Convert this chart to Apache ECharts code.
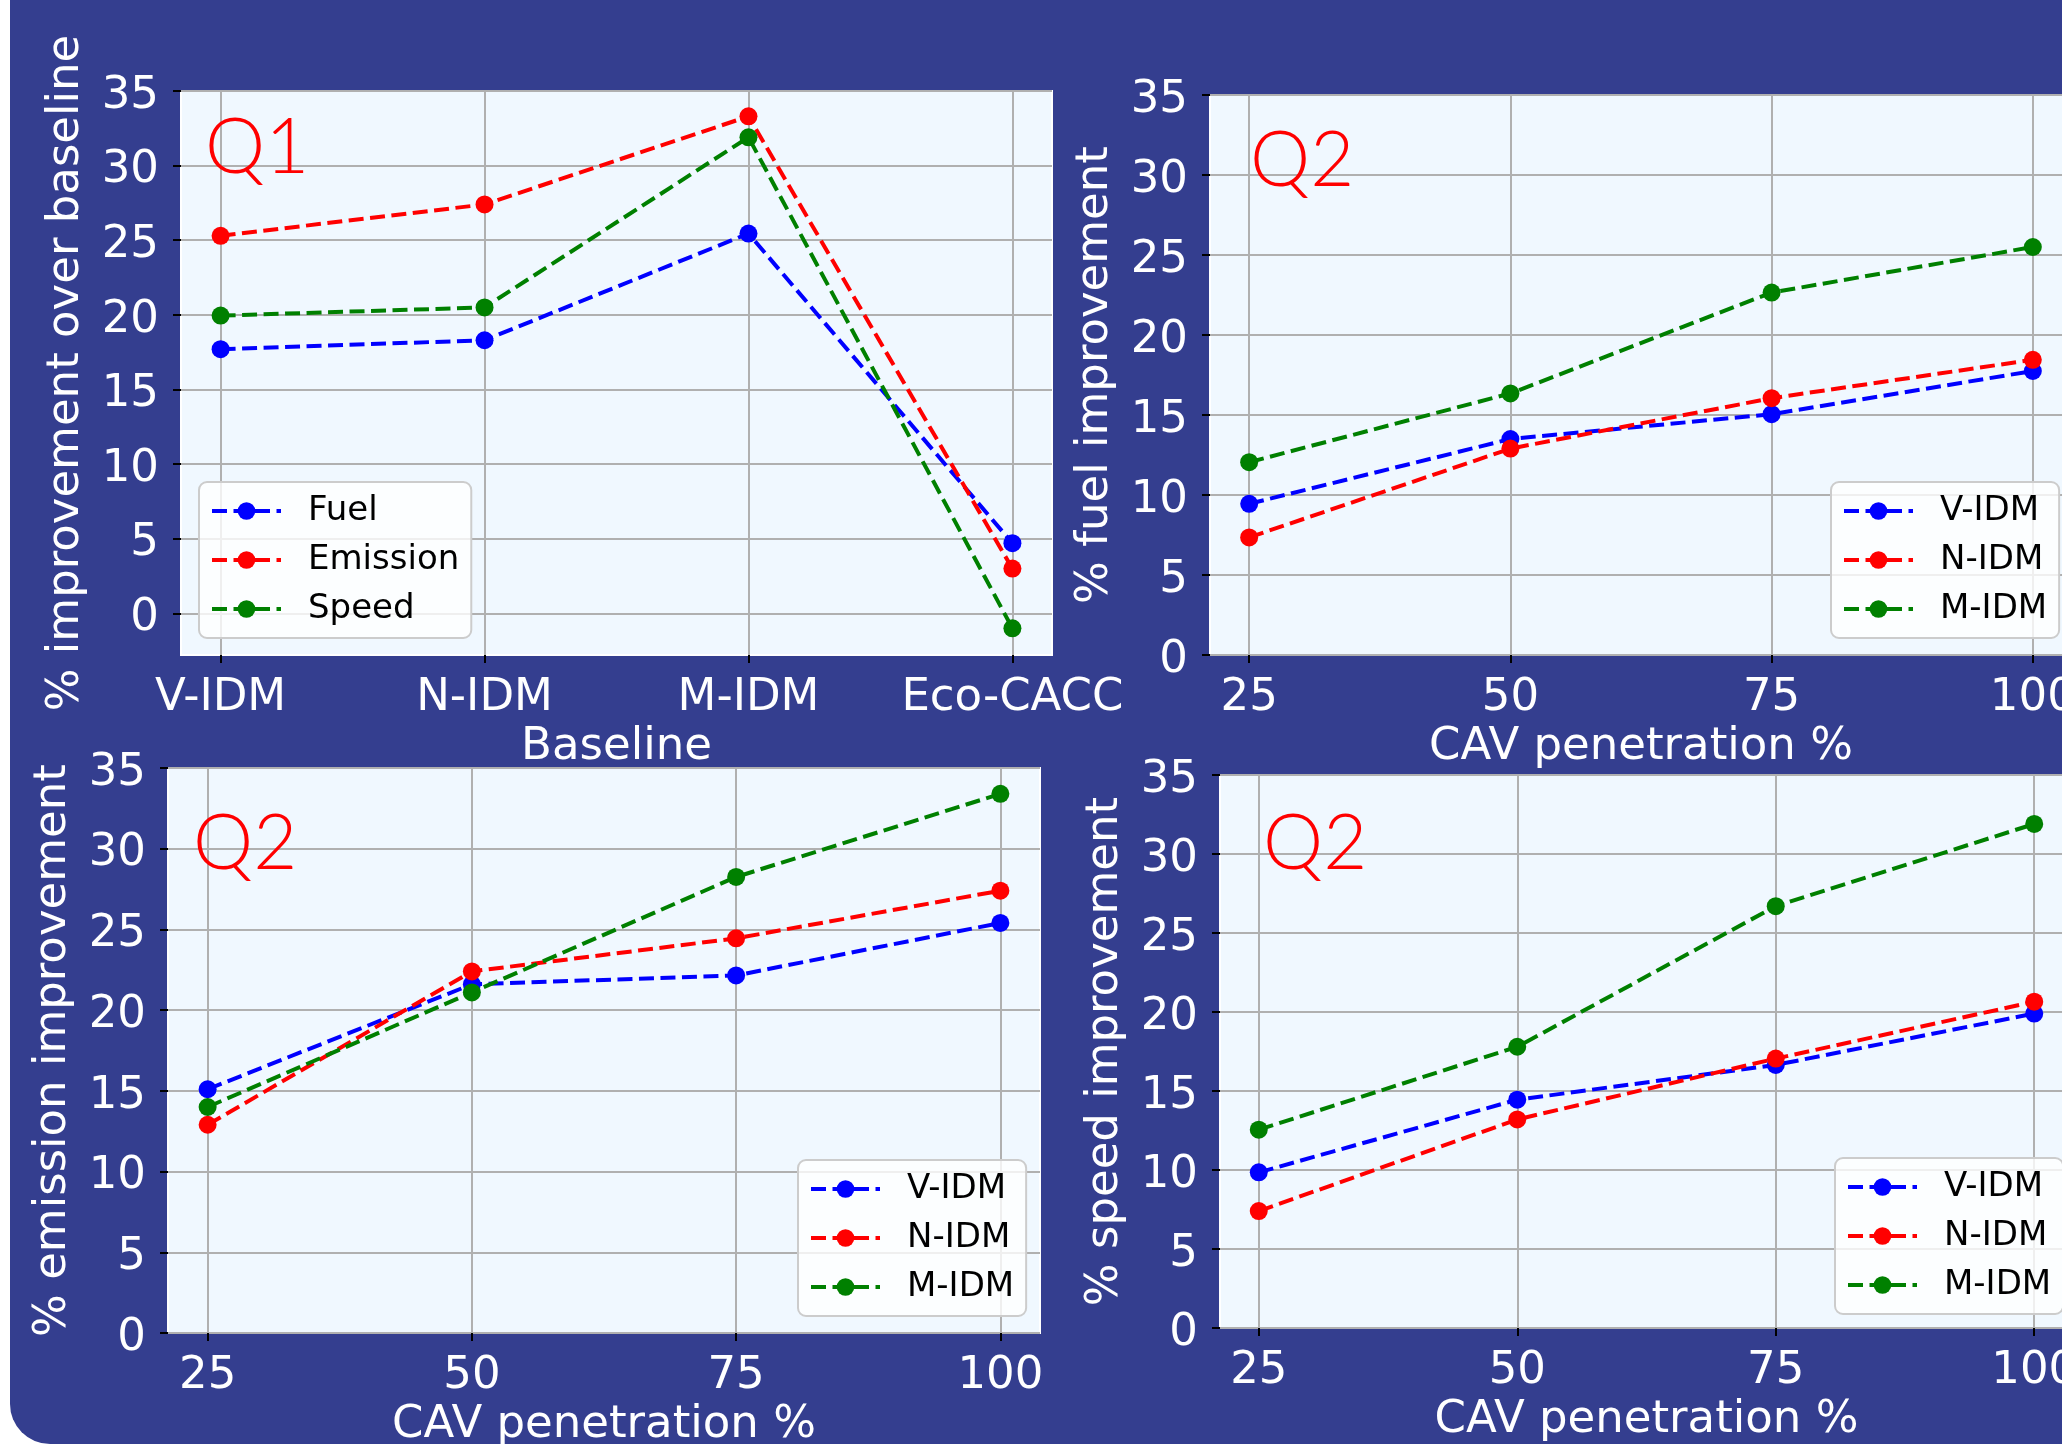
<!DOCTYPE html>
<html>
<head>
<meta charset="utf-8">
<script src="https://cdn.jsdelivr.net/npm/echarts@6/dist/echarts.min.js"></script>
<style>
  html, body { margin: 0; padding: 0; background: #ffffff; }
  #chart { width: 2062px; height: 1444px; }
</style>
</head>
<body>
<div id="chart"></div>
<script>
// Q1: improvement over each baseline
const BASELINES = ['V-IDM', 'N-IDM', 'M-IDM', 'Eco-CACC'];
const Q1_NAMES = ['Fuel', 'Emission', 'Speed'];
const Q1_FUEL = [17.7, 18.3, 25.45, 4.7];
const Q1_EMISSION = [25.3, 27.4, 33.3, 3.0];
const Q1_SPEED = [19.95, 20.5, 31.9, -1.0];

// Q2: improvement vs CAV penetration
const PENETRATION = [25, 50, 75, 100];
const MODELS = ['V-IDM', 'N-IDM', 'M-IDM'];
const FUEL_V = [9.45, 13.5, 15.05, 17.75];
const FUEL_N = [7.35, 12.9, 16.05, 18.45];
const FUEL_M = [12.05, 16.35, 22.65, 25.5];
const EMIS_V = [15.1, 21.6, 22.15, 25.4];
const EMIS_N = [12.9, 22.4, 24.45, 27.4];
const EMIS_M = [14.0, 21.1, 28.25, 33.4];
const SPEED_V = [9.85, 14.45, 16.65, 19.9];
const SPEED_N = [7.4, 13.2, 17.05, 20.65];
const SPEED_M = [12.55, 17.8, 26.7, 31.9];

const Y_TICKS = [0, 5, 10, 15, 20, 25, 30, 35];
const COLORS = ['#0000ff', '#ff0000', '#008000'];

const FONT = 'DejaVu Sans';
const NAVY = '#343e8f';

const chart = echarts.init(document.getElementById('chart'));

const grids = [
    { left: 181, top: 91, width: 871, height: 564 },
    { left: 1210, top: 95, width: 862, height: 560 },
    { left: 168, top: 768, width: 872, height: 565 },
    { left: 1220, top: 775, width: 853, height: 553 }
].map(g => ({
    ...g,
    show: true,
    outerBoundsMode: 'none',
    containLabel: false,
    backgroundColor: '#f0f8ff',
    borderColor: '#ffffff',
    borderWidth: 2
}));

const tickLabel = { color: '#ffffff', fontSize: 45, fontFamily: FONT };
const splitLine = { show: true, lineStyle: { color: '#b0b0b0', width: 2 } };

function xAxis(gridIndex, name, min, max, ticks, formatter) {
    return {
        type: 'value', gridIndex, name, min, max,
        nameLocation: 'middle', nameGap: 70,
        nameTextStyle: { color: '#ffffff', fontSize: 45, fontFamily: FONT },
        axisLine: { show: false, onZero: false },
        axisTick: { show: true, length: 8, lineStyle: { color: '#000', width: 2 }, customValues: ticks },
        axisLabel: { ...tickLabel, margin: 21, customValues: ticks, formatter },
        splitLine
    };
}

function yAxis(gridIndex, name, min, max) {
    return {
        type: 'value', gridIndex, name, min, max,
        nameLocation: 'middle', nameGap: 92, nameRotate: 90,
        nameTextStyle: { color: '#ffffff', fontSize: 45, fontFamily: FONT },
        axisLine: { show: false, onZero: false },
        axisTick: { show: true, length: 8, lineStyle: { color: '#000', width: 2 }, customValues: Y_TICKS },
        axisLabel: {
            ...tickLabel, margin: 22, customValues: Y_TICKS,
            formatter: v => '{t|' + v + '}',
            rich: { t: { ...tickLabel, padding: [10, 0, 0, 0] } }
        },
        splitLine
    };
}

const penFmt = v => String(v);

const xAxes = [
    xAxis(0, 'Baseline', -0.15, 3.15, [0, 1, 2, 3], v => BASELINES[Math.round(v)]),
    xAxis(1, 'CAV penetration %', 21.25, 103.75, PENETRATION, penFmt),
    xAxis(2, 'CAV penetration %', 21.25, 103.75, PENETRATION, penFmt),
    xAxis(3, 'CAV penetration %', 21.25, 103.75, PENETRATION, penFmt)
];
const yAxes = [
    yAxis(0, '% improvement over baseline', -2.79, 35.0),
    yAxis(1, '% fuel improvement', 0, 35),
    yAxis(2, '% emission improvement', 0, 35),
    yAxis(3, '% speed improvement', 0, 35)
];

function line(name, idx, xs, ys, color) {
    return {
        name, type: 'line',
        xAxisIndex: idx, yAxisIndex: idx,
        data: ys.map((v, i) => [xs[i], v]),
        symbol: 'circle', symbolSize: 18,
        itemStyle: { color },
        lineStyle: { color, width: 4, type: [15, 6.5] },
        emphasis: { disabled: true },
        animation: false
    };
}

const q1x = [0, 1, 2, 3];
const series = [
    line('Fuel', 0, q1x, Q1_FUEL, COLORS[0]),
    line('Emission', 0, q1x, Q1_EMISSION, COLORS[1]),
    line('Speed', 0, q1x, Q1_SPEED, COLORS[2]),
    line('V-IDM', 1, PENETRATION, FUEL_V, COLORS[0]),
    line('N-IDM', 1, PENETRATION, FUEL_N, COLORS[1]),
    line('M-IDM', 1, PENETRATION, FUEL_M, COLORS[2]),
    line('V-IDM', 2, PENETRATION, EMIS_V, COLORS[0]),
    line('N-IDM', 2, PENETRATION, EMIS_N, COLORS[1]),
    line('M-IDM', 2, PENETRATION, EMIS_M, COLORS[2]),
    line('V-IDM', 3, PENETRATION, SPEED_V, COLORS[0]),
    line('N-IDM', 3, PENETRATION, SPEED_N, COLORS[1]),
    line('M-IDM', 3, PENETRATION, SPEED_M, COLORS[2])
];

function legend(left, top, names) {
    return {
        orient: 'vertical', left, top, data: names,
        itemWidth: 69, itemHeight: 22, itemGap: 15,
        padding: [12, 12, 12, 11],
        backgroundColor: 'rgba(255,255,255,0.8)',
        borderColor: '#cccccc', borderWidth: 2, borderRadius: 8,
        selectedMode: false,
        lineStyle: { width: 4, type: [15, 6.5] },
        textStyle: { color: '#000', fontSize: 34, fontFamily: FONT, padding: [0, 0, 0, 22] }
    };
}

function qLabel(text, x, y) {
    return {
        type: 'text', left: x, top: y, z: 100,
        style: { text, fill: '#ff0000', fontSize: 76, fontFamily: 'Lato', fontWeight: 300 }
    };
}

chart.setOption({
    animation: false,
    grid: grids,
    xAxis: xAxes,
    yAxis: yAxes,
    legend: [
        legend(199, 482, Q1_NAMES),
        legend(1831, 482, MODELS),
        legend(798, 1160, MODELS),
        legend(1835, 1158, MODELS)
    ],
    graphic: [
        {
            type: 'rect', z: -10, silent: true,
            shape: { x: 10, y: 0, width: 2052, height: 1444, r: [0, 0, 0, 40] },
            style: { fill: NAVY }
        },
        qLabel('Q1', 205, 110),
        qLabel('Q2', 1250, 123),
        qLabel('Q2', 193, 806),
        qLabel('Q2', 1263, 806)
    ],
    series
});
</script>
</body>
</html>
